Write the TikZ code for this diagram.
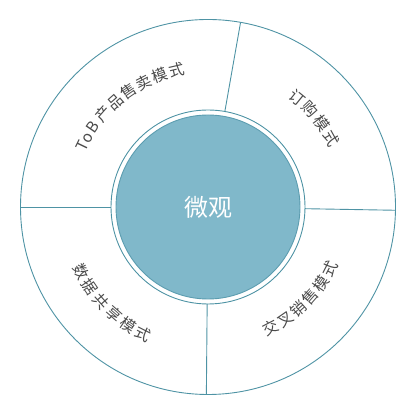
\documentclass[tikz,border=0pt]{standalone}
\usepackage{fontspec}
\usetikzlibrary{calc}
\setmainfont{Noto Sans CJK SC}
\definecolor{ringline}{HTML}{4E93A4}
\definecolor{corefill}{HTML}{80B8CA}
\definecolor{coreline}{HTML}{5C9DB0}
\definecolor{txtgray}{HTML}{4A4A4A}
\begin{document}
\begin{tikzpicture}[x=1pt,y=1pt,
  ring/.style={draw=ringline,line width=0.9pt},
  lbl/.style={font=\fontsize{15.5}{15.5}\selectfont,text=txtgray,inner sep=0pt,
    text height=0.86em,text depth=0.1em,anchor=center}]
\useasboundingbox (0,0) rectangle (414,414);
\coordinate (c) at (208,207);
% outer ring and segment inner boundary
\draw[ring] (c) circle (187.5);
\draw[ring] (c) circle (97);
% dividers
\foreach \a/\n in {80/top,-1/right,269.5/bottom,180/left}{
  \coordinate (d\n i) at ($(c)+(\a:97)$);
  \coordinate (d\n o) at ($(c)+(\a:187.5)$);
  \draw[ring] (d\n i) -- (d\n o);
}
% core
\node[circle,fill=corefill,draw=coreline,line width=0.9pt,minimum size=184pt,inner sep=0pt,
  font=\fontsize{24}{24}\selectfont,text=white] (core) at (c) {微观};
% To B label (clockwise, tops outward)
\foreach \a/\ch [count=\i] in {154.3/T,150.4/o,145.4/B,138.5/产,131.4/品,124.3/售,117.2/卖,110.1/模,103/式}{
  \node[lbl,rotate=\a-90] (ta\i) at ($(c)+(\a:138)$) {\ch};
}
% 订购模式
\foreach \a/\ch [count=\i] in {51/订,43.7/购,36.4/模,29.1/式}{
  \node[lbl,rotate=\a-90] (tb\i) at ($(c)+(\a:139)$) {\ch};
}
% 交叉销售模式 (counter-clockwise, tops inward)
\foreach \a/\ch [count=\i] in {-62.6/交,-55.5/叉,-48.4/销,-41.3/售,-34.2/模,-27.1/式}{
  \node[lbl,rotate=\a+90] (tc\i) at ($(c)+(\a:138.6)$) {\ch};
}
% 数据共享模式
\foreach \a/\ch [count=\i] in {207/数,214.2/据,221.4/共,228.6/享,235.8/模,243/式}{
  \node[lbl,rotate=\a+90] (td\i) at ($(c)+(\a:144.5)$) {\ch};
}
\end{tikzpicture}
\end{document}
